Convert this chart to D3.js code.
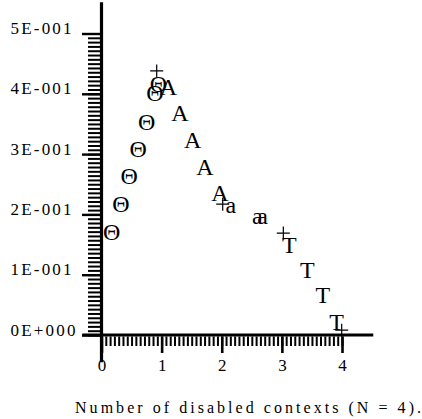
<!DOCTYPE html>
<html>
<head>
<meta charset="utf-8">
<script src="https://cdn.jsdelivr.net/npm/d3@7/dist/d3.min.js"></script>
</head>
<body style="margin:0;background:#fff">
<svg id="chart" width="422" height="419" style="display:block"></svg>
<script>
// Marker series: each point is drawn as a glyph
const thetaX = [0.170, 0.324, 0.462, 0.612, 0.752, 0.890, 0.945];
const thetaY = [0.171, 0.217, 0.264, 0.308, 0.354, 0.401, 0.417];

const bigAX = [1.111, 1.306, 1.516, 1.721, 1.971];
const bigAY = [0.412, 0.368, 0.323, 0.279, 0.235];

const smallAX = [2.149, 2.591, 2.681];
const smallAY = [0.210, 0.192, 0.192];

const tX = [3.123, 3.423, 3.680, 3.912];
const tY = [0.149, 0.108, 0.066, 0.022];

const plusX = [0.918, 2.016, 3.024, 3.995];
const plusY = [0.438, 0.217, 0.169, 0.008];

// Axis ticks and labels
const xMajorTicks = [0, 1, 2, 3, 4];
const xTickLabels = ["0", "1", "2", "3", "4"];
const yMajorTicks = [0, 0.1, 0.2, 0.3, 0.4, 0.5];
const yTickLabels = ["0E+000", "1E-001", "2E-001", "3E-001", "4E-001", "5E-001"];
const minorPerMajor = 14;
const xAxisExtent = [-0.32, 4.52];
const yAxisExtent = [-0.045, 0.552];
const xTitle = "Number of disabled contexts (N = 4).";

const FONT = "Liberation Serif";

const svg = d3.select("#chart");

const x = d3.scaleLinear().domain([0, 4]).range([101.5, 342]);
const y = d3.scaleLinear().domain([0, 0.5]).range([335, 33.5]);

// minor tick positions
const xMinor = d3.range(0, 4 * minorPerMajor + 1).map(i => i / minorPerMajor);
const yMinor = d3.range(0, 5 * minorPerMajor + 1).map(i => i / (minorPerMajor * 10));

const axisX0 = 100;   // left edge of the vertical axis bar
const axisY0 = 336.5; // lower edge of the horizontal axis bar

function styleTicks(g, w) {
  g.attr("font-family", FONT);
  g.select(".domain").remove();
  g.selectAll(".tick line").attr("stroke", "#000").attr("stroke-width", w);
}

// y axis: minor then major ticks
svg.append("g")
  .attr("transform", `translate(${axisX0},0)`)
  .call(d3.axisLeft(y).tickValues(yMinor).tickSize(12).tickFormat(""))
  .call(g => styleTicks(g, 2));

const yMajorG = svg.append("g")
  .attr("transform", `translate(${axisX0},0)`)
  .call(d3.axisLeft(y).tickValues(yMajorTicks).tickSize(18)
    .tickFormat((d, i) => yTickLabels[i]))
  .call(g => styleTicks(g, 2.4));
yMajorG.selectAll(".tick text")
  .attr("x", 10.5 - axisX0)
  .attr("dy", 0)
  .attr("text-anchor", "start")
  .attr("font-family", FONT)
  .attr("font-size", 17)
  .attr("letter-spacing", 2.2)
  .attr("fill", "#000");

// x axis: minor then major ticks
svg.append("g")
  .attr("transform", `translate(0,${axisY0})`)
  .call(d3.axisBottom(x).tickValues(xMinor).tickSize(9.5).tickFormat(""))
  .call(g => styleTicks(g, 2));

const xMajorG = svg.append("g")
  .attr("transform", `translate(0,${axisY0})`)
  .call(d3.axisBottom(x).tickValues(xMajorTicks).tickSize(16.5)
    .tickFormat((d, i) => xTickLabels[i]))
  .call(g => styleTicks(g, 2.6));
xMajorG.selectAll(".tick text")
  .attr("y", 371 - axisY0)
  .attr("dy", 0)
  .attr("font-family", FONT)
  .attr("font-size", 17)
  .attr("fill", "#000");

// axis bars
svg.append("line")
  .attr("x1", x(0)).attr("x2", x(0))
  .attr("y1", y(yAxisExtent[0])).attr("y2", y(yAxisExtent[1]))
  .attr("stroke", "#000").attr("stroke-width", 3.2);
svg.append("line")
  .attr("x1", x(xAxisExtent[0])).attr("x2", x(xAxisExtent[1]))
  .attr("y1", y(0)).attr("y2", y(0))
  .attr("stroke", "#000").attr("stroke-width", 3.2);

// axis title
svg.append("text")
  .attr("x", 75).attr("y", 413)
  .attr("textLength", 346)
  .attr("lengthAdjust", "spacing")
  .attr("font-family", FONT)
  .attr("font-size", 16)
  .attr("fill", "#000")
  .text(xTitle);

// glyph markers
const markerSeries = [
  { glyph: "\u0398", xs: thetaX, ys: thetaY, shift: 8 },
  { glyph: "A", xs: bigAX, ys: bigAY, shift: 8 },
  { glyph: "a", xs: smallAX, ys: smallAY, shift: 5 },
  { glyph: "T", xs: tX, ys: tY, shift: 8 }
];

markerSeries.forEach(s => {
  svg.append("g")
    .selectAll("text")
    .data(s.xs.map((v, i) => [v, s.ys[i]]))
    .join("text")
    .attr("x", d => x(d[0]))
    .attr("y", d => y(d[1]) + s.shift)
    .attr("text-anchor", "middle")
    .attr("font-family", FONT)
    .attr("font-size", 24)
    .attr("fill", "#000")
    .text(s.glyph);
});

// plus markers
const arm = 6.5;
svg.append("g")
  .selectAll("path")
  .data(plusX.map((v, i) => [v, plusY[i]]))
  .join("path")
  .attr("d", d => {
    const px = x(d[0]), py = y(d[1]);
    return `M${px - arm},${py}H${px + arm}M${px},${py - arm}V${py + arm}`;
  })
  .attr("stroke", "#000")
  .attr("stroke-width", 1.2)
  .attr("fill", "none");
</script>
</body>
</html>
